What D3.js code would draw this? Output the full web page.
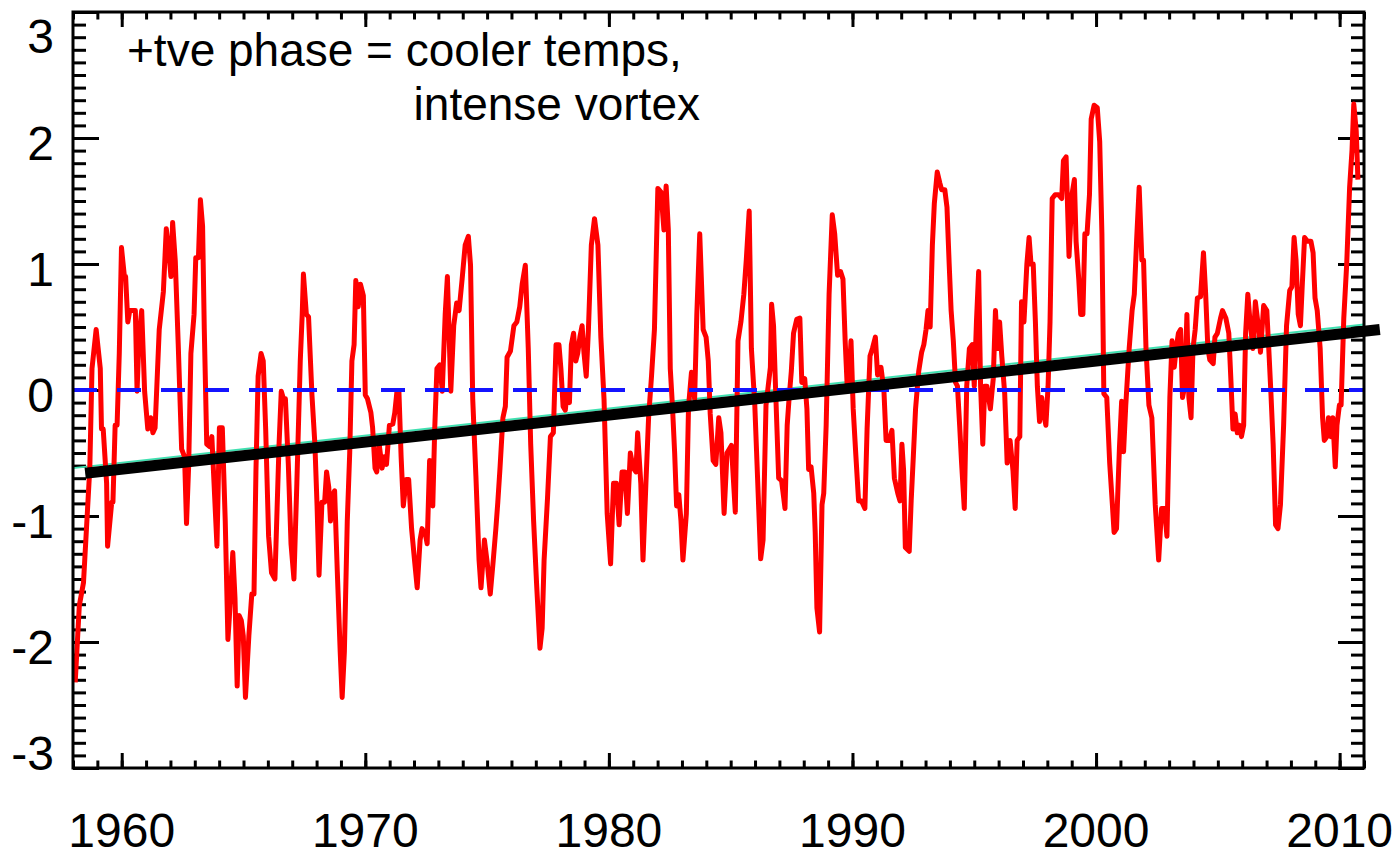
<!DOCTYPE html>
<html>
<head>
<meta charset="utf-8">
<script src="https://cdn.jsdelivr.net/npm/d3@7"></script>
<style>
  body { margin: 0; background: #fff; }
  text { font-family: "Liberation Sans", Arial, Helvetica, sans-serif; fill: #000; }
</style>
</head>
<body>
<svg id="chart" width="1400" height="859"></svg>
<script>
// index series, decimal year / value
var years = [1958.09,1958.26,1958.43,1958.69,1958.78,1958.95,1959.12,1959.17,1959.24,1959.38,1959.42,1959.59,1959.64,1959.73,1959.81,1959.90,1959.99,
  1960.11,1960.16,1960.25,1960.33,1960.56,1960.63,1960.71,1960.82,1960.94,1961.07,1961.19,1961.28,1961.37,1961.54,1961.71,1961.83,1961.94,
  1962.02,1962.09,1962.20,1962.32,1962.46,1962.58,1962.66,1962.75,1962.84,1962.97,1963.04,1963.15,1963.23,1963.32,1963.39,1963.49,1963.61,1963.70,1963.79,1963.91,
  1964.01,1964.13,1964.25,1964.36,1964.42,1964.56,1964.65,1964.74,1964.82,1964.91,1964.99,1965.08,1965.22,1965.34,1965.43,1965.51,1965.60,1965.72,1965.81,1965.91,
  1966.03,1966.15,1966.29,1966.46,1966.55,1966.64,1966.72,1966.84,1966.95,1967.07,1967.19,1967.33,1967.41,1967.46,1967.58,1967.67,1967.81,1967.93,
  1968.02,1968.10,1968.22,1968.33,1968.41,1968.50,1968.57,1968.67,1968.74,1968.85,1968.97,1969.05,1969.14,1969.26,1969.36,1969.45,1969.54,1969.61,1969.71,1969.80,1969.92,
  1970.00,1970.09,1970.23,1970.30,1970.40,1970.47,1970.57,1970.69,1970.78,1970.87,1970.99,1971.13,1971.21,1971.30,1971.38,1971.47,1971.56,1971.68,1971.78,1971.90,
  1972.02,1972.13,1972.25,1972.33,1972.47,1972.54,1972.64,1972.77,1972.85,1972.94,1973.06,1973.16,1973.28,1973.37,1973.51,1973.63,1973.75,1973.85,1973.97,
  1974.10,1974.23,1974.32,1974.41,1974.54,1974.67,1974.75,1974.89,1975.01,1975.13,1975.24,1975.36,1975.44,1975.53,1975.65,1975.75,1975.82,1975.96,
  1976.10,1976.22,1976.34,1976.44,1976.57,1976.69,1976.79,1976.91,1977.03,1977.17,1977.26,1977.34,1977.48,1977.60,1977.72,1977.83,1977.95,
  1978.03,1978.12,1978.21,1978.29,1978.38,1978.46,1978.55,1978.64,1978.72,1978.81,1978.90,1978.98,1979.07,1979.16,1979.28,1979.41,1979.55,1979.67,1979.80,1979.93,
  1980.07,1980.19,1980.31,1980.42,1980.54,1980.66,1980.76,1980.88,1981.00,1981.11,1981.18,1981.31,1981.40,1981.52,1981.63,1981.75,1981.87,
  1982.01,1982.14,1982.26,1982.35,1982.44,1982.52,1982.61,1982.70,1982.78,1982.87,1982.96,1983.04,1983.18,1983.27,1983.39,1983.52,1983.61,1983.73,1983.87,1983.99,
  1984.08,1984.16,1984.28,1984.39,1984.51,1984.60,1984.73,1984.85,1985.03,1985.19,1985.30,1985.42,1985.54,1985.64,1985.76,1985.85,1985.99,
  1986.11,1986.23,1986.33,1986.45,1986.54,1986.63,1986.68,1986.76,1986.85,1986.97,1987.09,1987.23,1987.32,1987.40,1987.49,1987.58,1987.71,1987.84,1987.92,
  1988.04,1988.13,1988.20,1988.30,1988.41,1988.47,1988.54,1988.65,1988.75,1988.82,1988.92,1989.04,1989.17,1989.27,1989.39,1989.51,1989.61,1989.70,1989.79,1989.86,1989.94,
  1990.03,1990.13,1990.25,1990.37,1990.51,1990.60,1990.72,1990.82,1990.94,1991.03,1991.17,1991.29,1991.38,1991.51,1991.62,1991.72,1991.86,1991.95,
  1992.03,1992.10,1992.17,1992.33,1992.41,1992.50,1992.59,1992.72,1992.84,1992.93,1993.02,1993.10,1993.19,1993.28,1993.36,1993.48,1993.59,1993.66,1993.79,1993.88,1993.97,
  1994.05,1994.14,1994.23,1994.31,1994.40,1994.48,1994.59,1994.69,1994.80,1994.92,1995.00,1995.09,1995.18,1995.26,1995.35,1995.43,1995.52,1995.66,1995.78,1995.87,1995.95,
  1996.04,1996.13,1996.25,1996.35,1996.47,1996.59,1996.68,1996.76,1996.87,1996.94,1997.04,1997.16,1997.25,1997.33,1997.42,1997.51,1997.59,1997.68,1997.77,1997.85,1997.94,
  1998.03,1998.11,1998.20,1998.32,1998.46,1998.59,1998.66,1998.77,1998.89,1999.01,1999.11,1999.18,1999.29,1999.37,1999.46,1999.54,1999.63,1999.73,1999.80,1999.92,
  2000.05,2000.15,2000.24,2000.32,2000.44,2000.56,2000.67,2000.74,2000.84,2000.96,2001.05,2001.13,2001.22,2001.36,2001.48,2001.57,2001.67,2001.77,2001.88,2001.95,
  2002.05,2002.17,2002.29,2002.43,2002.57,2002.69,2002.81,2002.91,2003.03,2003.12,2003.21,2003.29,2003.38,2003.47,2003.55,2003.64,2003.73,2003.81,2003.90,2003.98,
  2004.07,2004.16,2004.29,2004.41,2004.50,2004.59,2004.67,2004.81,2004.88,2004.98,2005.11,2005.19,2005.33,2005.45,2005.54,2005.62,2005.71,2005.80,2005.88,2005.97,
  2006.06,2006.14,2006.23,2006.31,2006.44,2006.54,2006.66,2006.75,2006.88,2007.01,2007.09,2007.18,2007.27,2007.37,2007.47,2007.57,2007.70,2007.82,2007.95,
  2008.04,2008.13,2008.21,2008.30,2008.39,2008.47,2008.56,2008.68,2008.82,2008.91,2008.99,2009.08,2009.20,2009.30,2009.37,2009.48,2009.54,2009.65,2009.72,2009.82,2009.89,2009.99,
  2010.06,2010.17,2010.29,2010.41,2010.51,2010.58,2010.68,2010.75];

var values = [-2.32,-1.71,-1.53,-0.62,0.17,0.48,0.17,-0.31,-0.31,-0.74,-1.24,-0.89,-0.89,-0.28,-0.28,0.29,1.13,
  0.90,0.90,0.54,0.63,0.63,-0.01,0.42,0.63,-0.01,-0.31,-0.22,-0.34,-0.30,0.48,0.78,1.28,1.09,
  0.90,1.33,1.02,0.36,-0.47,-0.53,-1.06,-0.59,0.29,0.60,1.05,1.05,1.51,1.30,0.48,-0.43,-0.45,-0.37,-0.74,-1.24,
  -0.30,-0.30,-1.04,-1.98,-1.80,-1.29,-1.65,-2.35,-1.79,-1.83,-1.95,-2.44,-1.95,-1.62,-1.62,-0.65,0.11,0.29,0.23,-0.31,
  -1.16,-1.45,-1.50,-0.43,-0.01,-0.07,-0.07,-0.59,-1.22,-1.50,-0.74,0.23,0.60,0.92,0.60,0.58,-0.04,-0.43,
  -0.92,-1.47,-0.89,-0.89,-0.65,-0.77,-1.04,-0.83,-0.80,-1.44,-2.08,-2.44,-2.08,-1.04,-0.50,0.23,0.36,0.87,0.66,0.84,0.75,
  -0.04,-0.07,-0.18,-0.30,-0.62,-0.65,-0.43,-0.62,-0.53,-0.59,-0.28,-0.27,-0.18,-0.01,-0.01,-0.53,-0.92,-0.71,-0.71,-1.10,
  -1.35,-1.57,-1.19,-1.10,-1.15,-1.22,-0.56,-0.92,-0.31,0.17,0.20,-0.01,0.60,0.90,-0.01,0.51,0.69,0.63,0.87,
  1.15,1.22,0.99,-0.07,-0.68,-1.35,-1.57,-1.19,-1.38,-1.62,-1.38,-1.10,-0.89,-0.62,-0.22,-0.13,0.26,0.31,
  0.51,0.54,0.66,0.84,0.99,0.33,-0.43,-1.04,-1.53,-2.05,-1.89,-1.35,-0.86,-0.37,-0.34,0.36,0.36,
  0.17,-0.13,-0.16,-0.01,-0.10,0.36,0.45,0.23,0.29,0.42,0.51,0.29,0.11,0.48,1.15,1.36,1.15,0.42,-0.07,-0.98,
  -1.38,-0.74,-0.74,-1.07,-0.65,-0.65,-0.98,-0.50,-0.62,-0.65,-0.34,-0.74,-1.35,-0.74,-0.22,0.11,0.48,
  1.60,1.57,1.27,1.62,1.27,0.17,-0.13,-0.50,-0.92,-0.83,-1.04,-1.35,-0.98,-0.13,0.14,-0.07,0.60,1.24,0.48,0.42,
  0.23,-0.19,-0.56,-0.59,-0.22,-0.34,-0.98,-0.50,-0.44,-0.97,0.39,0.54,0.76,1.03,1.42,0.33,-0.12,
  -0.73,-1.34,-1.19,-0.12,0.03,0.18,0.68,0.51,-0.03,-0.70,-0.72,-0.94,-0.28,-0.06,0.15,0.45,0.56,0.57,0.06,
  0.09,-0.15,-0.63,-0.61,-0.82,-1.13,-1.73,-1.92,-0.91,-0.82,-0.28,0.76,1.39,1.24,0.91,0.94,0.88,0.39,0.00,0.09,0.39,
  -0.15,-0.49,-0.88,-0.88,-0.94,-0.31,0.27,0.33,0.42,0.12,0.18,0.00,-0.40,-0.40,-0.32,-0.70,-0.82,-0.88,
  -0.43,-0.64,-1.25,-1.28,-0.88,-0.52,-0.15,0.15,0.30,0.36,0.48,0.63,0.50,1.15,1.48,1.73,1.64,1.59,1.59,1.45,1.00,
  0.63,0.39,0.06,0.03,-0.28,-0.58,-0.94,0.03,0.33,0.36,0.03,0.54,0.94,0.03,-0.43,0.03,0.03,-0.15,0.09,0.63,0.33,
  0.54,0.27,-0.03,-0.58,-0.40,-0.64,-0.94,-0.40,-0.37,0.70,0.54,1.00,1.21,1.00,1.00,0.54,0.03,-0.25,-0.06,-0.19,-0.28,
  0.03,0.54,1.52,1.55,1.55,1.52,1.82,1.85,1.06,1.55,1.67,1.18,0.88,0.60,0.60,1.24,1.24,1.55,2.15,2.26,
  2.24,1.97,1.24,-0.03,-0.06,-0.58,-0.91,-1.13,-1.10,-0.46,-0.09,-0.49,-0.12,0.33,0.63,0.76,1.21,1.61,1.03,1.03,
  0.33,-0.12,-0.22,-0.91,-1.35,-0.94,-0.94,-1.16,-0.06,0.39,0.18,0.33,0.45,0.48,-0.06,0.03,0.60,-0.06,-0.22,0.33,
  0.48,0.73,0.74,1.09,0.76,0.33,0.24,0.21,0.42,0.45,0.57,0.63,0.57,0.45,0.06,-0.31,-0.19,-0.34,-0.28,-0.37,
  -0.28,0.45,0.76,0.57,0.33,0.70,0.51,0.30,0.67,0.63,0.33,-0.03,-0.43,-1.07,-1.10,-0.91,-0.28,0.51,0.79,
  0.82,1.21,1.03,0.60,0.51,0.85,1.21,1.18,1.18,1.09,0.73,0.63,0.33,-0.22,-0.40,-0.37,-0.22,-0.37,-0.22,-0.61,-0.28,-0.12,
  -0.12,0.57,1.00,1.61,1.91,2.27,2.06,1.67];

// linear trend (black) and full-period fit (thin green)
var trendYears = [1958.5, 2011.65];
var trendValues = [-0.66, 0.48];
var fitYears = [1958, 2011];
var fitValues = [-0.62, 0.52];

var yearLabels = [1960, 1970, 1980, 1990, 2000, 2010];
var valueLabels = [-3, -2, -1, 0, 1, 2, 3];
var noteLines = ["+tve phase = cooler temps,", "intense vortex"];

var svg = d3.select("#chart");

var x = d3.scaleLinear().domain([1958, 2011]).range([73, 1364]),
    y = d3.scaleLinear().domain([-3, 3]).range([768, 12]);

var minorYears = d3.range(1958, 2012),
    minorVals = d3.range(-30, 31).map(function(d) { return d / 10; });

// tick marks, all pointing inward, on every side
function ticks(axisFn, scale, vals, len, transform) {
  var g = svg.append("g")
      .attr("transform", transform)
      .call(axisFn(scale).tickValues(vals).tickSize(len).tickFormat(""));
  g.select(".domain").remove();
  g.selectAll("line").attr("stroke", "#000").attr("stroke-width", 3);
}
ticks(d3.axisBottom, x, minorYears, -7.5, "translate(0,768)");
ticks(d3.axisBottom, x, yearLabels, -15, "translate(0,768)");
ticks(d3.axisTop, x, minorYears, -7.5, "translate(0,12)");
ticks(d3.axisTop, x, yearLabels, -15, "translate(0,12)");
ticks(d3.axisLeft, y, minorVals, -13, "translate(73,0)");
ticks(d3.axisLeft, y, valueLabels, -26, "translate(73,0)");
ticks(d3.axisRight, y, minorVals, -13, "translate(1364,0)");
ticks(d3.axisRight, y, valueLabels, -26, "translate(1364,0)");

var line = d3.line()
    .x(function(d) { return x(d[0]); })
    .y(function(d) { return y(d[1]); });

// fit line (thin green)
svg.append("path")
    .datum(d3.zip(fitYears, fitValues))
    .attr("fill", "none")
    .attr("stroke", "#3fe0b0")
    .attr("stroke-width", 2)
    .attr("d", line);

// data
svg.append("path")
    .datum(d3.zip(years, values))
    .attr("fill", "none")
    .attr("stroke", "#ff0000")
    .attr("stroke-width", 5)
    .attr("stroke-linejoin", "round")
    .attr("d", line);

// zero line
svg.append("path")
    .datum([[1958, 0], [2011, 0]])
    .attr("fill", "none")
    .attr("stroke", "#1414ff")
    .attr("stroke-width", 4)
    .attr("stroke-dasharray", "24,20")
    .attr("d", line);

// trend
svg.append("path")
    .datum(d3.zip(trendYears, trendValues))
    .attr("fill", "none")
    .attr("stroke", "#000")
    .attr("stroke-width", 11)
    .attr("d", line);

// frame
svg.append("rect")
    .attr("x", x(1958)).attr("y", y(3))
    .attr("width", x(2011) - x(1958))
    .attr("height", y(-3) - y(3))
    .attr("fill", "none")
    .attr("stroke", "#000")
    .attr("stroke-width", 3);

// axis labels
svg.append("g").selectAll("text")
    .data(yearLabels)
    .enter().append("text")
    .attr("x", function(d) { return x(d); })
    .attr("y", 847)
    .attr("text-anchor", "middle")
    .attr("font-size", 48)
    .text(function(d) { return d; });

svg.append("g").selectAll("text")
    .data(valueLabels)
    .enter().append("text")
    .attr("x", 54)
    .attr("y", function(d) { return Math.min(Math.max(y(d) + 5, 36), 753) + 17; })
    .attr("text-anchor", "end")
    .attr("font-size", 48)
    .text(function(d) { return d; });

// annotation
svg.append("text")
    .attr("x", 127).attr("y", 66)
    .attr("font-size", 46)
    .text(noteLines[0]);
svg.append("text")
    .attr("x", 700).attr("y", 120)
    .attr("text-anchor", "end")
    .attr("font-size", 46)
    .text(noteLines[1]);
</script>
</body>
</html>
